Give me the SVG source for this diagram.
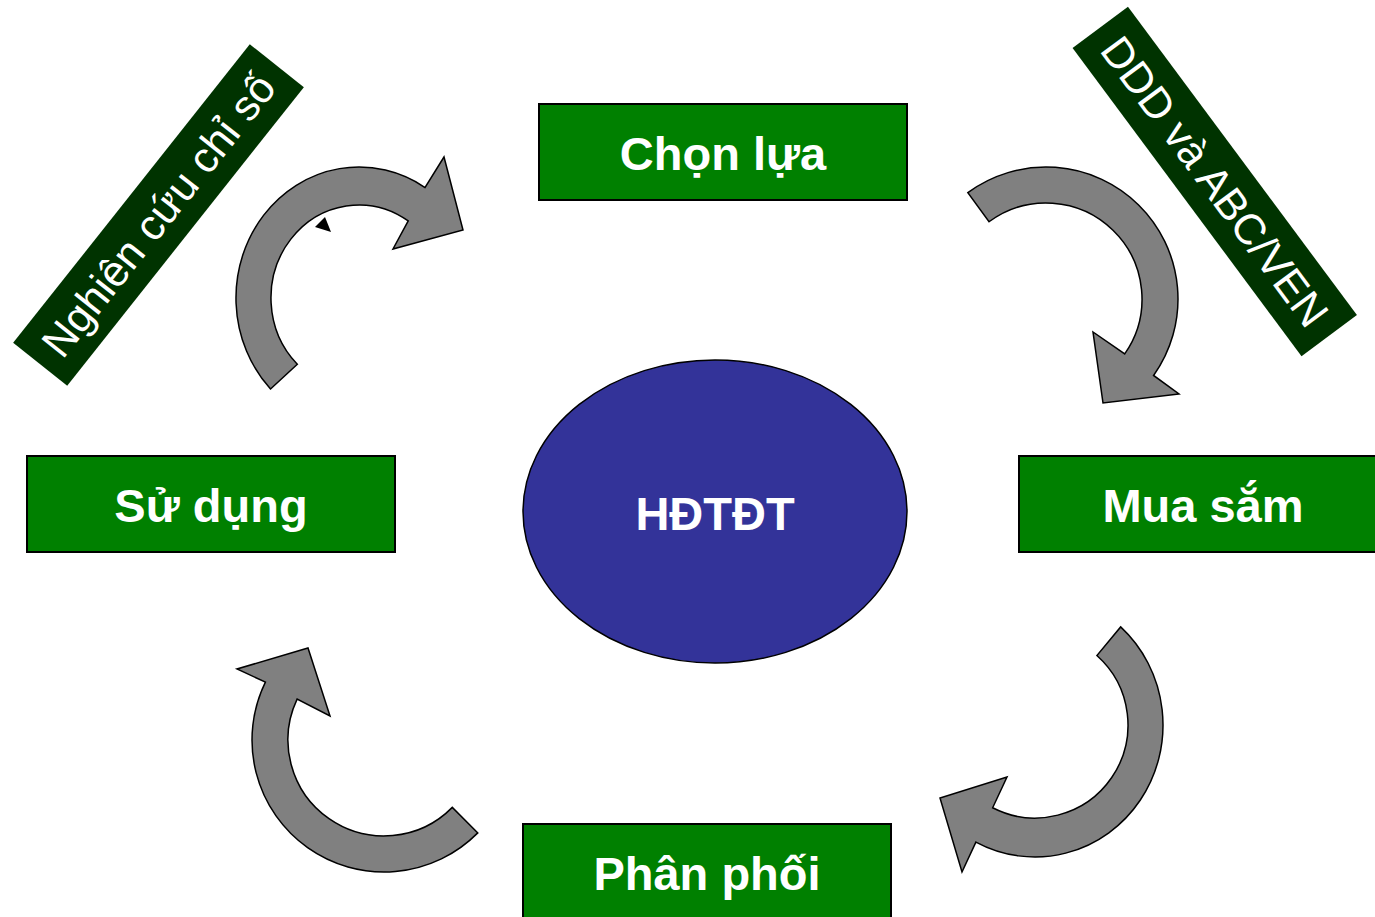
<svg xmlns="http://www.w3.org/2000/svg" width="1375" height="917" viewBox="0 0 1375 917">
<style>
.box{fill:#008000;stroke:#000;stroke-width:2}
.lbl{fill:#fff;font-family:"Liberation Sans",Arial,sans-serif;font-weight:bold;font-size:47px;text-anchor:middle}
.tag{fill:#003300}
.tagt{fill:#fff;font-family:"Liberation Sans",Arial,sans-serif;font-size:43px;text-anchor:middle}
.arr{fill:#808080;stroke:#000;stroke-width:1.5;stroke-linejoin:miter}
</style>
<rect width="1375" height="917" fill="#fff"/>
<g id="connectors">
<path class="arr" d="M 270.52,389 A 123,131 0 0 1 425.09,187.51 L 444,157 L 463,230 L 393,249 L 408.21,220.9 A 88,93 0 0 0 297.32,364.34 Z"/>
<polygon points="325,217 331,232 315,227" fill="#000"/>
<path class="arr" d="M 967.86,192.62 A 132,132 0 0 1 1153.59,375.47 L 1179,394 L 1103,403 L 1093,332 L 1124.74,353.92 A 96,96 0 0 0 989.03,221.73 Z"/>
<path class="arr" d="M 1120.65,626.91 A 128,132 0 0 1 975.9,842.09 L 962,872 L 940,798 L 1007,777 L 992.64,807.79 A 93,93 0 0 0 1096.86,655.56 Z"/>
<path class="arr" d="M 477.8,832.9 A 132,132 0 0 1 265.4,682.1 L 237,669 L 308,648 L 330,716 L 297.1,699.1 A 96,96 0 0 0 452.3,807.4 Z"/>
</g>
<g id="tag-left" transform="translate(158.5,215) rotate(-51.6)">
<rect class="tag" x="-190.5" y="-34.5" width="381" height="69"/>
<text class="tagt" x="0" y="15">Nghiên cứu chỉ số</text>
</g>
<g id="tag-right" transform="translate(1214.75,181.5) rotate(53.4)">
<rect class="tag" x="-192" y="-34.5" width="384" height="69"/>
<text class="tagt" x="0" y="15">DDD và ABC/VEN</text>
</g>
<g id="center">
<ellipse cx="715" cy="511.5" rx="192" ry="151.5" fill="#333399" stroke="#000" stroke-width="1.5"/>
<text class="lbl" x="715" y="530">HĐTĐT</text>
</g>
<g id="chon-lua">
<rect class="box" x="539" y="104" width="368" height="96"/>
<text class="lbl" x="723" y="170">Chọn lựa</text>
</g>
<g id="mua-sam">
<rect class="box" x="1019" y="456" width="368" height="96"/>
<text class="lbl" x="1203" y="522">Mua sắm</text>
</g>
<g id="phan-phoi">
<rect class="box" x="523" y="824" width="368" height="96"/>
<text class="lbl" x="707" y="890">Phân phối</text>
</g>
<g id="su-dung">
<rect class="box" x="27" y="456" width="368" height="96"/>
<text class="lbl" x="211" y="522">Sử dụng</text>
</g>
</svg>
